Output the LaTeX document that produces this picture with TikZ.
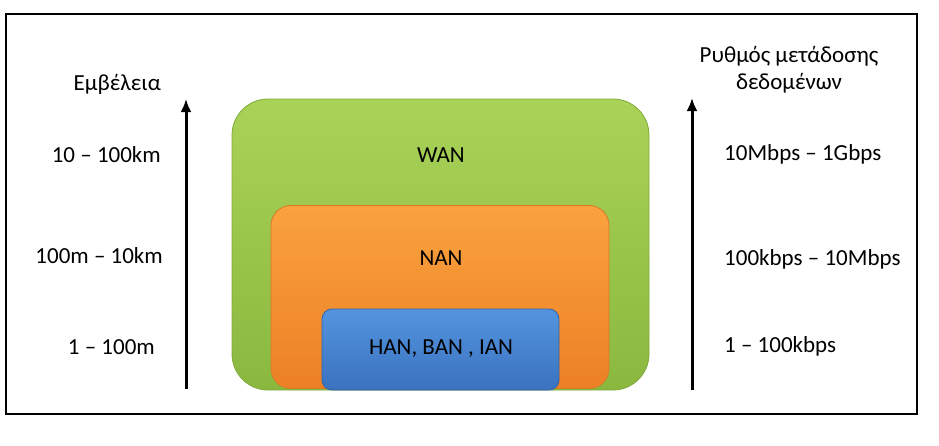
\documentclass[tikz,border=0pt]{standalone}
\usepackage{fontspec}
\setmainfont{Carlito}
\usetikzlibrary{arrows.meta}
\definecolor{gtop}{RGB}{170,210,88}
\definecolor{gbot}{RGB}{138,184,62}
\definecolor{gedge}{RGB}{128,170,60}
\definecolor{otop}{RGB}{250,162,62}
\definecolor{obot}{RGB}{236,128,38}
\definecolor{oedge}{RGB}{220,120,40}
\definecolor{btop}{RGB}{84,148,222}
\definecolor{bbot}{RGB}{58,114,192}
\definecolor{bedge}{RGB}{50,100,170}
\tikzset{
  zone/.style={rectangle, draw, line width=0.8pt, inner sep=0pt},
  lbl/.style={font=\fontsize{23}{27}\selectfont, text=black, inner sep=0pt},
  axis/.style={line width=3pt, -{Latex[length=13pt,width=11pt]}},
}
\begin{document}
\begin{tikzpicture}[x=1pt,y=-1pt]
\useasboundingbox (0,0) rectangle (939,445);
\draw[line width=2.6pt] (6,14) rectangle (917,414);
% zones
\node[zone, draw=gedge, top color=gtop, bottom color=gbot, rounded corners=36pt,
      minimum width=417pt, minimum height=291pt] (wan) at (440.5,244.5) {};
\node[zone, draw=oedge, top color=otop, bottom color=obot, rounded corners=20pt,
      minimum width=338pt, minimum height=183pt] (nan) at (440,297) {};
\node[zone, draw=bedge, top color=btop, bottom color=bbot, rounded corners=10pt,
      minimum width=237pt, minimum height=81pt] (han) at (440.5,349.5) {};
\node[lbl] (wanl) at (441,155) {WAN};
\node[lbl] (nanl) at (441,258) {NAN};
\node[lbl] (hanl) at (441,349) {HAN, BAN , IAN};
% left axis
\coordinate (la0) at (186,389);
\coordinate (la1) at (186,99);
\draw[axis] (la0) -- (la1);
\node[lbl, anchor=east] (range) at (161,84) {Εμβέλεια};
\node[lbl, anchor=east] (r1) at (161,155) {10 – 100km};
\node[lbl, anchor=east] (r2) at (163,256) {100m – 10km};
\node[lbl, anchor=east] (r3) at (155,347) {1 – 100m};
% right axis
\coordinate (ra0) at (692,390);
\coordinate (ra1) at (692,98);
\draw[axis] (ra0) -- (ra1);
\node[lbl, align=center] (rate) at (789,70) {Ρυθμός μετάδοσης\\δεδομένων};
\node[lbl, anchor=west] (s1) at (724,154) {10Mbps – 1Gbps};
\node[lbl, anchor=west] (s2) at (724,259) {100kbps – 10Mbps};
\node[lbl, anchor=west] (s3) at (724,346) {1 – 100kbps};
\end{tikzpicture}
\end{document}
